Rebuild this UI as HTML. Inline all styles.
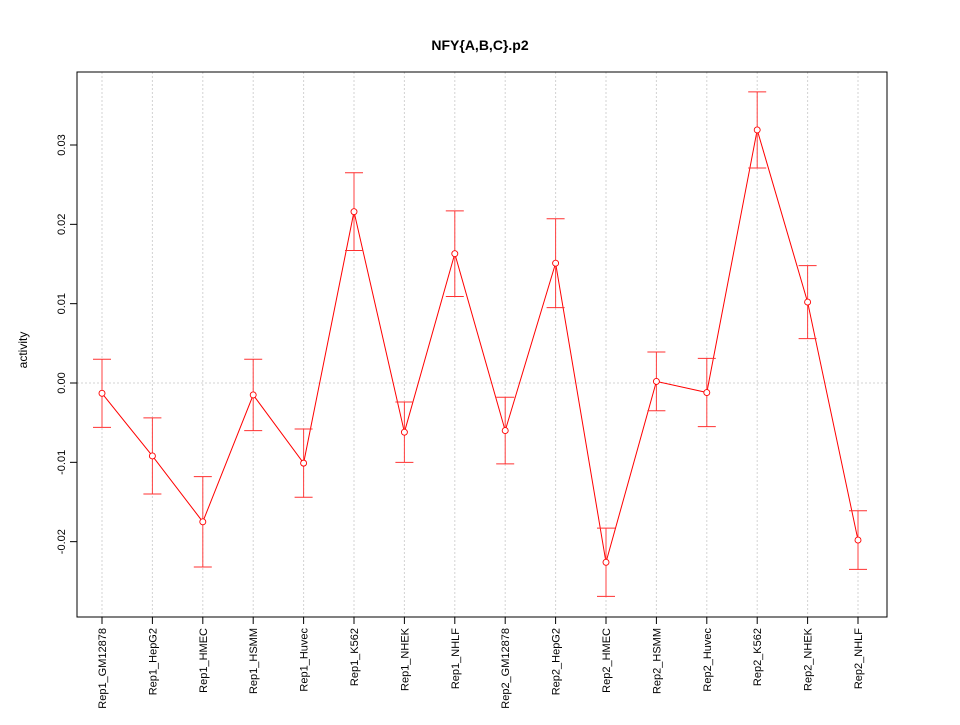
<!DOCTYPE html>
<html><head><meta charset="utf-8"><style>
body{margin:0;background:#fff}
svg{font-family:"Liberation Sans",sans-serif}
</style></head><body>
<svg id="chart" width="960" height="720" xmlns="http://www.w3.org/2000/svg">
<rect width="960" height="720" fill="#fff"/>
<text x="480" y="50" text-anchor="middle" font-size="14" font-weight="bold">NFY{A,B,C}.p2</text>
<text transform="translate(27,350) rotate(-90)" text-anchor="middle" font-size="12">activity</text>
<g id="grid"></g>
<g id="yaxis"></g>
<g id="xaxis"></g>
<g id="series"></g>
<rect x="77" y="72" width="810" height="545" fill="none" stroke="#000"/>
</svg>
<script>
const categories=["Rep1_GM12878","Rep1_HepG2","Rep1_HMEC","Rep1_HSMM","Rep1_Huvec","Rep1_K562","Rep1_NHEK","Rep1_NHLF","Rep2_GM12878","Rep2_HepG2","Rep2_HMEC","Rep2_HSMM","Rep2_Huvec","Rep2_K562","Rep2_NHEK","Rep2_NHLF"];
const values=[-0.0013,-0.0092,-0.0175,-0.0015,-0.0101,0.0216,-0.0062,0.0163,-0.006,0.0151,-0.0226,0.0002,-0.0012,0.0319,0.0102,-0.0198];
const errors=[0.0043,0.0048,0.0057,0.0045,0.0043,0.0049,0.0038,0.0054,0.0042,0.0056,0.0043,0.0037,0.0043,0.0048,0.0046,0.0037];
const yTicks=[-0.02,-0.01,0.00,0.01,0.02,0.03];
const yTickLabels=["-0.02","-0.01","0.00","0.01","0.02","0.03"];
const NS="http://www.w3.org/2000/svg";
function X(i){return 102+i*(858-102)/(categories.length-1);}
function Y(v){return 383-v*7933;}
function mk(tag,attrs,parent){const e=document.createElementNS(NS,tag);for(const k in attrs)e.setAttribute(k,attrs[k]);document.getElementById(parent).appendChild(e);return e;}
categories.forEach((c,i)=>{
 const g=mk("line",{x1:X(i),x2:X(i),y1:72,y2:617,stroke:"#d3d3d3","stroke-dasharray":"2,2"},"grid");
 
 
 const t=mk("line",{x1:X(i),x2:X(i),y1:617,y2:624,stroke:"#000"},"xaxis");
 
 
 const l=mk("text",{transform:`translate(${X(i)+4},628) rotate(-90)`,"text-anchor":"end","font-size":"11"},"xaxis");
 l.textContent=c;
 
 
});
const z=mk("line",{x1:77,x2:887,y1:Y(0),y2:Y(0),stroke:"#d3d3d3","stroke-dasharray":"2,2"},"grid");


yTicks.forEach((v,i)=>{
 const t=mk("line",{x1:70,x2:77,y1:Y(v),y2:Y(v),stroke:"#000"},"yaxis");
 
 
 const l=mk("text",{transform:`translate(65,${Y(v)}) rotate(-90)`,"text-anchor":"middle","font-size":"11"},"yaxis");
 l.textContent=yTickLabels[i];
 
 
});
const pl=mk("polyline",{points:values.map((v,i)=>X(i)+","+Y(v)).join(" "),fill:"none",stroke:"#ff0000"},"series");


values.forEach((v,i)=>{
 const x=X(i),yt=Y(v+errors[i]),yb=Y(v-errors[i]);
 const b=mk("line",{x1:x,x2:x,y1:yt,y2:yb,stroke:"#ff4040"},"series");
 
 
 [yt,yb].forEach(yy=>{
  const c=mk("line",{x1:x-9,x2:x+9,y1:yy,y2:yy,stroke:"#ff3030"},"series");
  
  
 });
 const p=mk("circle",{cx:x,cy:Y(v),r:3,fill:"#fff",stroke:"#ff0000","stroke-width":0.9},"series");
 
 
});
</script>
</body></html>
